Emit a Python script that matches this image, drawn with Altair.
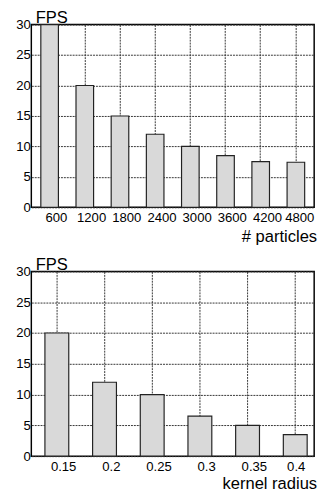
import altair as alt
import pandas as pd

particles = ["600", "1200", "1800", "2400", "3000", "3600", "4200", "4800"]
fps_particles = [30, 20, 15, 12, 10, 8.5, 7.5, 7.4]

radius = ["0.15", "0.2", "0.25", "0.3", "0.35", "0.4"]
fps_radius = [20, 12, 10, 6.5, 5, 3.5]

y_ticks = [0, 5, 10, 15, 20, 25, 30]

df1 = pd.DataFrame({"x": particles, "fps": fps_particles})
df2 = pd.DataFrame({"x": radius, "fps": fps_radius})

FONT = "Liberation Sans"
W = 291


def panel(df, order, xtitle, h, pad_outer, align, last_label, last_off, title_y):
    x_axis = alt.Axis(
        title=xtitle, labelAngle=0, grid=True, tickSize=0, domain=False,
        labelPadding=4, labelFontSize=13.5, labelFont=FONT, labelColor="black",
        labelOffset=alt.condition(f"datum.value == '{last_label}'", alt.value(last_off), alt.value(7)),
        titleFont=FONT, titleFontSize=17, titleFontWeight="normal", titleColor="black",
        titleAlign="right", titleBaseline="alphabetic", titleX=W + 2.5, titleY=title_y,
        gridColor="#333", gridDash=[2, 1], gridWidth=1,
    )
    y_axis = alt.Axis(
        title="FPS", values=y_ticks, grid=True, tickSize=0, domain=False,
        labelPadding=1, labelFontSize=13.5, labelFont=FONT, labelColor="black",
        titleFont=FONT, titleFontSize=17, titleFontWeight="normal", titleColor="black",
        titleAngle=0, titleAlign="left", titleBaseline="alphabetic", titleX=4, titleY=-2,
        gridColor="#333", gridDash=[2, 1], gridWidth=1,
    )
    return alt.Chart(df).mark_bar(
        fill="#d9d9d9", stroke="#222", strokeWidth=1.2
    ).encode(
        x=alt.X("x:N", sort=order, axis=x_axis,
                scale=alt.Scale(paddingInner=0.5, paddingOuter=pad_outer, align=align)),
        y=alt.Y("fps:Q", axis=y_axis, scale=alt.Scale(domain=[0, 30], nice=False)),
    ).properties(width=W, height=h)


top = panel(df1, particles, "# particles", 188, 0.27, 0.5, "4800", 4, 35)
bottom = panel(df2, radius, "kernel radius", 190, 0.216, 0.66, "0.4", 1, 33)

chart = alt.vconcat(top, bottom, spacing=10).properties(
    padding={"left": 7, "top": -7, "right": 2, "bottom": 0}
).configure_view(
    stroke="black", strokeWidth=1.5
)

chart.save("out.html", embed_options={"renderer": "svg", "actions": False})
